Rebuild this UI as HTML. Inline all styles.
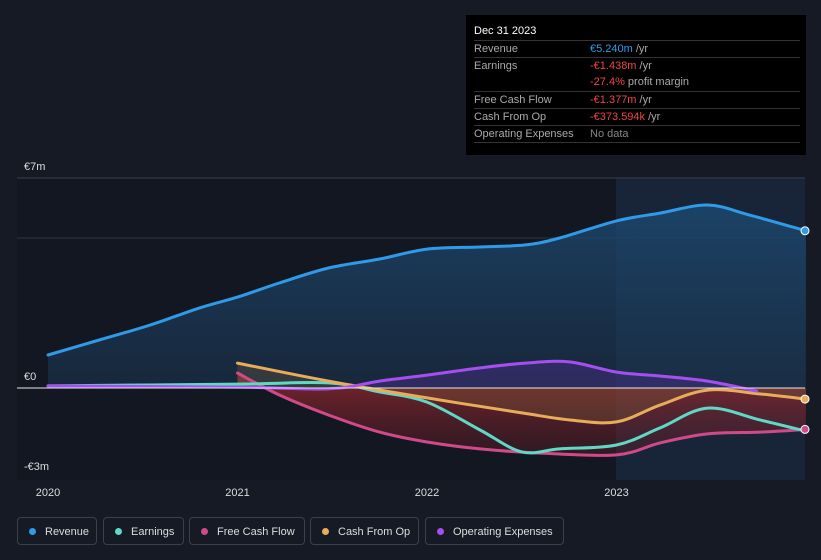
<!DOCTYPE html>
<html><head><meta charset="utf-8"><style>
body{margin:0;background:#151a24;width:821px;height:560px;overflow:hidden;font-family:"Liberation Sans",sans-serif}
#tip{position:absolute;left:466px;top:15px;width:340px;height:140px;background:#000;color:#aaa;font-size:11px}
.row{position:absolute;left:8px;width:326px;border-top:1px solid #333;height:17px;line-height:17px}
.row span.v{position:absolute;left:116px}
.red{color:#f04444}.grey{color:#888}
.leg{position:absolute;top:517px;height:28px;border:1px solid #3a404c;border-radius:4px;color:#ddd;font-size:11px;line-height:28px;box-sizing:border-box;padding-left:27px}
.leg i{position:absolute;left:11px;top:10px;width:7px;height:7px;border-radius:50%}
</style></head><body>
<svg id="chart" width="821" height="560" style="position:absolute;left:0;top:0">
<defs>
<linearGradient id="gb" x1="0" y1="0" x2="0" y2="1"><stop offset="0" stop-color="#1c4a72" stop-opacity="0.8"/><stop offset="1" stop-color="#1c3550" stop-opacity="0.55"/></linearGradient>
<linearGradient id="gr" x1="0" y1="0" x2="0" y2="1"><stop offset="0" stop-color="#a02a30" stop-opacity="0.75"/><stop offset="1" stop-color="#5a1c24" stop-opacity="0.4"/></linearGradient>
</defs>
<rect x="17" y="178" width="788" height="302" fill="#131722"/>
<rect x="616" y="178" width="189" height="302" fill="#182538"/>
<line x1="17" y1="178" x2="805" y2="178" stroke="#3a404c"/>
<line x1="17" y1="238" x2="805" y2="238" stroke="#2e3440"/>
<g id="marks"></g>
<line x1="17" y1="388" x2="805" y2="388" stroke="#e8e8e8" stroke-width="1"/>
<text x="24" y="170" fill="#ddd" font-size="11">€7m</text>
<text x="24" y="380" fill="#ddd" font-size="11">€0</text>
<text x="24" y="470" fill="#ddd" font-size="11">-€3m</text>
<g id="xt"></g>
</svg>
<div id="tip">
<div style="position:absolute;left:8px;top:10px;color:#fff;font-size:11px">Dec 31 2023</div>
<div class="row" style="top:25px">Revenue<span class="v"><span style="color:#2f9be8">€5.240m</span> /yr</span></div>
<div class="row" style="top:42px">Earnings<span class="v"><span class="red">-€1.438m</span> /yr</span></div>
<div class="row" style="top:59px;border-top:none"><span class="v"><span class="red">-27.4%</span> profit margin</span></div>
<div class="row" style="top:76px">Free Cash Flow<span class="v"><span class="red">-€1.377m</span> /yr</span></div>
<div class="row" style="top:93px">Cash From Op<span class="v"><span class="red">-€373.594k</span> /yr</span></div>
<div class="row" style="top:110px">Operating Expenses<span class="v grey">No data</span></div>
<div class="row" style="top:127px;height:0"></div>
</div>
<div class="leg" style="left:17px;width:80px"><i style="background:#2f9be8"></i>Revenue</div>
<div class="leg" style="left:103px;width:81px"><i style="background:#5fd8c6"></i>Earnings</div>
<div class="leg" style="left:189px;width:116px"><i style="background:#d04a8a"></i>Free Cash Flow</div>
<div class="leg" style="left:310px;width:109px"><i style="background:#e8ac5a"></i>Cash From Op</div>
<div class="leg" style="left:425px;width:139px"><i style="background:#a64ff0"></i>Operating Expenses</div>
<script>
const xTicks=[2020,2021,2022,2023];
const revT=[2020,2020.27,2020.54,2020.8,2021,2021.22,2021.48,2021.75,2022,2022.28,2022.52,2022.7,2023,2023.23,2023.48,2023.7,2024];
const revV=[1.1,1.6,2.1,2.67,3.03,3.5,4.0,4.3,4.63,4.7,4.77,5.0,5.57,5.83,6.1,5.77,5.24];
const earnT=[2020,2021,2021.48,2021.75,2022,2022.28,2022.5,2022.7,2023,2023.23,2023.48,2023.76,2024];
const earnV=[0.07,0.13,0.17,-0.13,-0.47,-1.4,-2.13,-2.03,-1.9,-1.33,-0.67,-1.07,-1.44];
const fcfT=[2021,2021.22,2021.48,2021.75,2022,2022.28,2022.6,2023,2023.23,2023.48,2023.76,2024];
const fcfV=[0.5,-0.23,-0.9,-1.47,-1.8,-2.03,-2.17,-2.23,-1.83,-1.53,-1.47,-1.38];
const cfoT=[2021,2021.48,2022,2022.5,2022.76,2023,2023.23,2023.48,2023.76,2024];
const cfoV=[0.83,0.23,-0.33,-0.83,-1.07,-1.13,-0.57,-0.07,-0.2,-0.37];
const opxT=[2020,2021,2021.48,2021.75,2022,2022.28,2022.52,2022.75,2023,2023.23,2023.48,2023.74];
const opxV=[0.07,0.03,-0.03,0.23,0.43,0.67,0.83,0.87,0.53,0.4,0.23,-0.1];
const X=t=>48+(t-2020)*189.5, Y=v=>388-v*30;
const NS='http://www.w3.org/2000/svg';
const g=document.getElementById('marks');
function pts(T,V){return T.map((t,i)=>[X(t),Y(V[i])]);}
function smooth(p){let d='M'+p[0][0]+','+p[0][1];for(let i=0;i<p.length-1;i++){const p0=p[i-1]||p[i],p1=p[i],p2=p[i+1],p3=p[i+2]||p2;d+=' C'+(p1[0]+(p2[0]-p0[0])/6)+','+(p1[1]+(p2[1]-p0[1])/6)+' '+(p2[0]-(p3[0]-p1[0])/6)+','+(p2[1]-(p3[1]-p1[1])/6)+' '+p2[0]+','+p2[1];}return d;}
function area(T,V,fill,name){const p=pts(T,V);const el=document.createElementNS(NS,'path');el.setAttribute('d',smooth(p)+' L'+p[p.length-1][0]+',388 L'+p[0][0]+',388 Z');el.setAttribute('fill',fill);


g.appendChild(el);}
function line(T,V,c,name){const el=document.createElementNS(NS,'path');el.setAttribute('d',smooth(pts(T,V)));el.setAttribute('fill','none');el.setAttribute('stroke',c);el.setAttribute('stroke-width','3');el.setAttribute('stroke-linecap','round');


g.appendChild(el);}
area(revT,revV,'url(#gb)','revenue-area');
area(fcfT,fcfV,'url(#gr)','fcf-area');
area(opxT,opxV,'rgba(90,50,160,0.35)','opex-area');
area(cfoT,cfoV,'rgba(120,100,60,0.3)','cfo-area');
line(revT,revV,'#2f9be8','revenue-line');
line(fcfT,fcfV,'#d04a8a','fcf-line');
line(earnT,earnV,'#5fd8c6','earnings-line');
line(cfoT,cfoV,'#e8ac5a','cfo-line');
line(opxT,opxV,'#a64ff0','opex-line');
[[revV,'#2f9be8','revenue-end-dot'],[cfoV,'#e8ac5a','cfo-end-dot'],[fcfV,'#d04a8a','fcf-end-dot']].forEach(([V,c,n])=>{const el=document.createElementNS(NS,'circle');el.setAttribute('cx',X(2024)-1);el.setAttribute('cy',Y(V[V.length-1]));el.setAttribute('r','4');el.setAttribute('fill',c);el.setAttribute('stroke','#fff');el.setAttribute('stroke-width','1');


g.appendChild(el);});
const xt=document.getElementById('xt');
xTicks.forEach(t=>{const el=document.createElementNS(NS,'text');el.setAttribute('x',X(t));el.setAttribute('y','496');el.setAttribute('fill','#ddd');el.setAttribute('font-size','11');el.setAttribute('text-anchor','middle');el.textContent=t;


xt.appendChild(el);});
</script>
</body></html>
